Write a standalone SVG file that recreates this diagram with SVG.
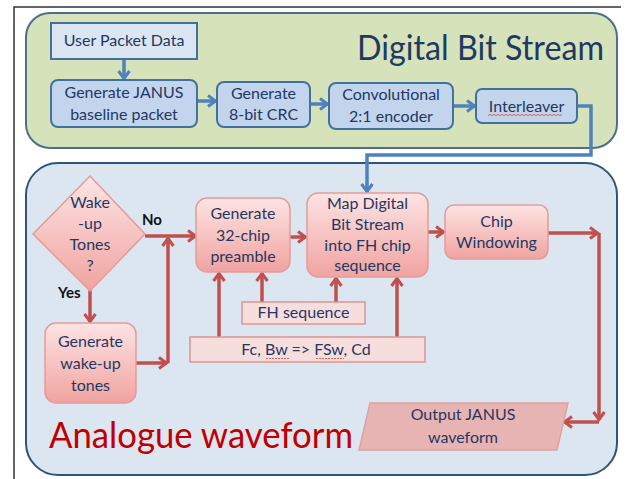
<svg xmlns="http://www.w3.org/2000/svg" width="625" height="479" viewBox="0 0 625 479">
<style>
  .t { font-family: Lato, "Open Sans", "Liberation Sans", sans-serif; font-size: 16px; fill: #1f3864; text-anchor: middle; }
  .lbl { font-family: Lato, "Liberation Sans", sans-serif; font-size: 15px; fill: #111; font-weight: bold; }
  .bnode { fill: #c2d5ec; stroke: #41719c; stroke-width: 2; }
  .pnode { fill: url(#pink); stroke: #e39c9a; stroke-width: 1.5; }
  .pbox { fill: #f6dedd; stroke: #d99694; stroke-width: 1.5; }
  .bl { fill: none; stroke: #4f81bd; stroke-width: 3.5; marker-end: url(#ab); }
  .rl { fill: none; stroke: #c0504d; stroke-width: 3.5; marker-end: url(#ar); }
  .sq { fill: none; stroke: #e0403a; stroke-width: 0.8; }
</style>
<defs>
  <linearGradient id="pink" x1="0" y1="0" x2="0" y2="1">
    <stop offset="0" stop-color="#fde4e3"/>
    <stop offset="1" stop-color="#f0a3a1"/>
  </linearGradient>
  <marker id="ab" viewBox="0 0 12 14" refX="10.5" refY="7" markerWidth="12" markerHeight="14" markerUnits="userSpaceOnUse" orient="auto">
    <path d="M2.5,1.5 L10,7 L2.5,12.5" fill="none" stroke="#4f81bd" stroke-width="3"/>
  </marker>
  <marker id="ar" viewBox="0 0 12 14" refX="10.5" refY="7" markerWidth="12" markerHeight="14" markerUnits="userSpaceOnUse" orient="auto">
    <path d="M2.5,1.5 L10,7 L2.5,12.5" fill="none" stroke="#c0504d" stroke-width="3"/>
  </marker>
</defs>

<rect x="0" y="0" width="625" height="479" fill="#ffffff"/>
<path d="M14,479 V7 H621" fill="none" stroke="#333" stroke-width="1.5"/>

<g id="panel-digital">
  <rect x="26" y="13" width="591" height="135" rx="24" fill="#d6e2b9" stroke="#4d6e8c" stroke-width="2"/>
  <text x="357" y="60" font-family="Lato, 'Open Sans', sans-serif" font-size="35" fill="#1f3864" textLength="247" lengthAdjust="spacingAndGlyphs">Digital Bit Stream</text>
</g>
<g id="panel-analogue">
  <rect x="26" y="163" width="591" height="312" rx="32" fill="#dce6f1" stroke="#2f5577" stroke-width="2"/>
  <text x="49" y="448" font-family="Lato, 'Open Sans', sans-serif" font-size="37" fill="#c00000" textLength="304" lengthAdjust="spacingAndGlyphs">Analogue waveform</text>
</g>

<g id="connectors">
  <path class="bl" d="M124,59 V79"/>
  <path class="bl" d="M197,101 H216"/>
  <path class="bl" d="M310,104 H328"/>
  <path class="bl" d="M453,106 H475"/>
  <path class="bl" d="M577,106 H591 V155 H367 V192"/>
  <path class="rl" d="M145,236 H196"/>
  <path class="rl" d="M90,290 V322"/>
  <path class="rl" d="M136,363 H167"/>
  <path class="rl" d="M168,363 V238"/>
  <path class="rl" d="M290,237 H306"/>
  <path class="rl" d="M219,337 V273"/>
  <path class="rl" d="M262,302 V273"/>
  <path class="rl" d="M336,302 V278"/>
  <path class="rl" d="M397,337 V278"/>
  <path class="rl" d="M428,232 H444"/>
  <path class="rl" d="M548,233 H598"/>
  <path class="rl" d="M599,233 V420"/>
  <path class="rl" d="M599,422 H564"/>
</g>

<g id="user-packet">
  <rect x="51" y="23" width="146" height="36" fill="#dce6f2" stroke="#41719c" stroke-width="2"/>
  <text class="t" x="124" y="46">User Packet Data</text>
</g>
<g id="gen-janus">
  <rect class="bnode" x="51" y="80" width="146" height="47" rx="7"/>
  <text class="t" x="124" y="98">Generate JANUS</text>
  <text class="t" x="124" y="120">baseline packet</text>
</g>
<g id="gen-crc">
  <rect class="bnode" x="217" y="82" width="93" height="45" rx="7"/>
  <text class="t" x="263.5" y="99">Generate</text>
  <text class="t" x="263.5" y="120">8-bit CRC</text>
</g>
<g id="conv-enc">
  <rect class="bnode" x="329" y="83" width="124" height="46" rx="7"/>
  <text class="t" x="391" y="100">Convolutional</text>
  <text class="t" x="391" y="122">2:1 encoder</text>
</g>
<g id="interleaver">
  <rect class="bnode" x="476" y="89" width="101" height="34" rx="6"/>
  <text class="t" x="526.5" y="112">Interleaver</text>
  <path class="sq" d="M488,115.5 l2,-1 l2,1 l2,-1 l2,1 l2,-1 l2,1 l2,-1 l2,1 l2,-1 l2,1 l2,-1 l2,1 l2,-1 l2,1 l2,-1 l2,1 l2,-1 l2,1 l2,-1 l2,1 l2,-1 l2,1 l2,-1 l2,1 l2,-1 l2,1 l2,-1 l2,1 l2,-1 l2,1 l2,-1 l2,1 l2,-1 l2,1 l2,-1 l2,1 l2,-1"/>
</g>

<g id="wakeup-decision">
  <polygon class="pnode" points="90,176 145,234 90,291 33,234"/>
  <text class="t" x="90" y="208">Wake</text>
  <text class="t" x="90" y="229">-up</text>
  <text class="t" x="90" y="250">Tones</text>
  <text class="t" x="90" y="271">?</text>
  <text class="lbl" x="142" y="225">No</text>
  <text class="lbl" x="58" y="298">Yes</text>
</g>
<g id="gen-wakeup">
  <rect class="pnode" x="45" y="323" width="91" height="80" rx="11"/>
  <text class="t" x="90.5" y="347">Generate</text>
  <text class="t" x="90.5" y="369">wake-up</text>
  <text class="t" x="90.5" y="391">tones</text>
</g>
<g id="gen-preamble">
  <rect class="pnode" x="196" y="198" width="94" height="74" rx="11"/>
  <text class="t" x="243" y="219">Generate</text>
  <text class="t" x="243" y="241">32-chip</text>
  <text class="t" x="243" y="262">preamble</text>
</g>
<g id="map-digital">
  <rect class="pnode" x="307" y="193" width="121" height="84" rx="11"/>
  <text class="t" x="367.5" y="209">Map Digital</text>
  <text class="t" x="367.5" y="230">Bit Stream</text>
  <text class="t" x="367.5" y="251">into FH chip</text>
  <text class="t" x="367.5" y="271">sequence</text>
</g>
<g id="chip-windowing">
  <rect class="pnode" x="445" y="205" width="103" height="54" rx="9"/>
  <text class="t" x="496.5" y="227">Chip</text>
  <text class="t" x="496.5" y="248">Windowing</text>
</g>
<g id="fh-sequence">
  <rect class="pbox" x="242" y="302" width="123" height="22"/>
  <text class="t" x="303.5" y="318">FH sequence</text>
</g>
<g id="fc-params">
  <rect class="pbox" x="190" y="337" width="235" height="25"/>
  <text class="t" x="306" y="355">Fc, Bw =&gt; FSw, Cd</text>
  <path class="sq" d="M266,358.5 h23 M316,358.5 h28" stroke-dasharray="2 1"/>
</g>
<g id="output-waveform">
  <polygon points="370,403 568,403 557,450 359,450" fill="#e8b4b3" stroke="#dba3a1" stroke-width="1.5"/>
  <text class="t" x="463" y="420">Output JANUS</text>
  <text class="t" x="463" y="443">waveform</text>
</g>
</svg>
